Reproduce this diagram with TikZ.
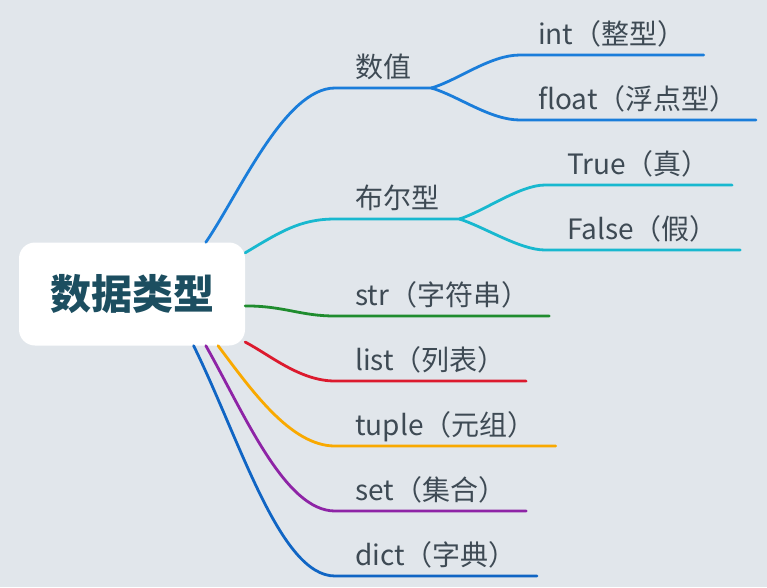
\documentclass[tikz,border=0pt]{standalone}
\usepackage{fontspec}
\setmainfont{Noto Sans CJK SC}
\usepackage{tikz}
\usetikzlibrary{calc}
\definecolor{bgc}{HTML}{E1E6EB}
\definecolor{rootc}{HTML}{1C4E60}
\definecolor{txtc}{HTML}{3E4A54}
\definecolor{numc}{HTML}{1A7DDA}
\definecolor{boolc}{HTML}{18B8CF}
\definecolor{strc}{HTML}{1F8C2E}
\definecolor{listc}{HTML}{DC1A2E}
\definecolor{tupc}{HTML}{F9A900}
\definecolor{setc}{HTML}{8E24A6}
\definecolor{dictc}{HTML}{1065C4}
\tikzset{
  topic/.style={fill=white, rounded corners=16pt, minimum width=226pt, minimum height=103pt, font=\fontsize{41}{46}\selectfont\bfseries, text=rootc},
  lbl/.style={anchor=south west, inner xsep=20pt, inner ysep=10pt, text depth=0pt, font=\fontsize{28}{31}\selectfont, text=txtc},
  br/.style={line width=2.8pt, line cap=round}
}
\begin{document}
\begin{tikzpicture}[x=1pt, y=-1pt]
\fill[bgc] (0,0) rectangle (767,587);
\useasboundingbox (0,0) rectangle (767,587);
\node[topic] (root) at (132,294) {数据类型};
% first level
\node[lbl] (num) at (335,88) {数值};
\node[lbl] (bool) at (335,219) {布尔型};
\node[lbl] (str) at (335,316) {str（字符串）};
\node[lbl] (list) at (335,381) {list（列表）};
\node[lbl] (tup) at (335,446) {tuple（元组）};
\node[lbl] (set) at (335,511) {set（集合）};
\node[lbl] (dict) at (335,576) {dict（字典）};
% second level
\node[lbl, inner xsep=18pt] (int) at (520,55) {int（整型）};
\node[lbl, inner xsep=18pt] (flt) at (520,120) {float（浮点型）};
\node[lbl, inner xsep=22pt] (tru) at (545,185) {True（真）};
\node[lbl, inner xsep=22pt] (fls) at (545,250) {False（假）};
% branches
\draw[br, numc] (root.35) .. controls (240,192) and (285,88) .. (num.south west) -- (num.south east);
\draw[br, boolc] (root.20) .. controls (280,232) and (300,219) .. (bool.south west) -- (bool.south east);
\draw[br, strc] (root.-6) .. controls (285,306) and (300,316) .. (str.south west) -- (str.south east);
\draw[br, listc] (root.-23) .. controls (270,355) and (300,381) .. (list.south west) -- (list.south east);
\draw[br, tupc] (root.-31) .. controls (250,388) and (290,446) .. (tup.south west) -- (tup.south east);
\draw[br, setc] (root.-35) .. controls (245,415) and (285,511) .. (set.south west) -- (set.south east);
\draw[br, dictc] (root.-40) .. controls (240,440) and (280,576) .. (dict.south west) -- (dict.south east);
\draw[br, numc] (num.south east) .. controls ($(num.south east)+(27,-8)$) and (490,55) .. (int.south west) -- (int.south east);
\draw[br, numc] (num.south east) .. controls ($(num.south east)+(27,8)$) and (490,120) .. (flt.south west) -- (flt.south east);
\draw[br, boolc] (bool.south east) .. controls ($(bool.south east)+(25,-8)$) and (520,185) .. (tru.south west) -- (tru.south east);
\draw[br, boolc] (bool.south east) .. controls ($(bool.south east)+(25,8)$) and (520,250) .. (fls.south west) -- (fls.south east);
\end{tikzpicture}
\end{document}
